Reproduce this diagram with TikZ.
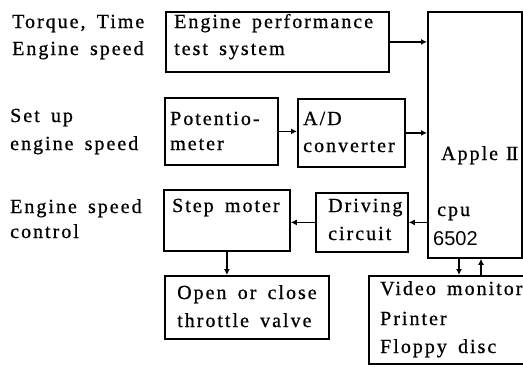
\documentclass[tikz,border=0pt]{standalone}
\usepackage{fontspec}
\setmainfont[LetterSpace=10,WordSpace=1.6,FakeBold=0.8]{Liberation Serif}
\newfontfamily\plainserif[FakeBold=0.8]{Liberation Serif}
\newfontfamily\numfont{Liberation Sans}
\usetikzlibrary{arrows.meta}
\begin{document}
\begin{tikzpicture}[x=1pt,y=-1pt,
  box/.style={draw, line width=1.8pt, inner sep=0pt, anchor=north west},
  lbl/.style={anchor=base west, inner sep=0pt, font=\fontsize{20}{27}\selectfont},
  arr/.style={line width=1.8pt, -{Latex[length=6pt,width=6pt]}}]
\useasboundingbox (0,0) rectangle (523,367);
% boxes
\node[box, minimum width=223, minimum height=60] (eng) at (165,11) {};
\node[box, minimum width=113, minimum height=67] (pot) at (164,97) {};
\node[box, minimum width=107, minimum height=68] (ad) at (297,98) {};
\node[box, minimum width=94, minimum height=246] (apple) at (427,11) {};
\node[box, minimum width=126, minimum height=61] (step) at (163,189) {};
\node[box, minimum width=92, minimum height=59] (drv) at (315,192) {};
\node[box, minimum width=164, minimum height=63] (open) at (164,275) {};
\node[box, minimum width=160, minimum height=88] (video) at (368,275) {};
% left labels
\node[lbl] (l1) at (12,28) {Torque, Time};
\node[lbl] (l2) at (12,55) {Engine speed};
\node[lbl] (l3) at (10,122) {Set up};
\node[lbl] (l4) at (10,150) {engine speed};
\node[lbl] (l5) at (10,213) {Engine speed};
\node[lbl] (l6) at (10,238) {control};
% box texts
\node[lbl] (t1) at (174,28) {Engine performance};
\node[lbl] (t2) at (174,55) {test system};
\node[lbl] (t3) at (170,125) {Potentio-};
\node[lbl] (t4) at (170,150) {meter};
\node[lbl] (t5) at (303,125) {A/D};
\node[lbl] (t6) at (303,152) {converter};
\node[lbl] (t7) at (441,160) {Apple\hspace{8pt}{\plainserif I\kern-1.2pt I}};
\node[lbl] (t8) at (172,212) {Step moter};
\node[lbl] (t9) at (328,212) {Driving};
\node[lbl] (t10) at (328,240) {circuit};
\node[lbl] (t11) at (437,216) {cpu};
\node[lbl] (t12) at (433,245) {\numfont 6502};
\node[lbl] (t13) at (177,299) {Open or close};
\node[lbl] (t14) at (177,327) {throttle valve};
\node[lbl] (t15) at (380,295) {Video monitor};
\node[lbl] (t16) at (380,325) {Printer};
\node[lbl] (t17) at (380,353) {Floppy disc};
% connectors
\coordinate (dn) at (459,0);
\coordinate (up) at (481,0);
\draw[arr] (eng.east) -- (eng.east -| apple.west);
\draw[arr] (pot.east) -- (pot.east -| ad.west);
\draw[arr] (ad.east) -- (ad.east -| apple.west);
\draw[arr] (drv.east -| apple.west) -- (drv.east);
\draw[arr] (drv.west) -- (drv.west -| step.east);
\draw[arr] (step.south) -- (step.south |- open.north);
\draw[arr] (apple.south -| dn) -- (video.north -| dn);
\draw[arr] (video.north -| up) -- (apple.south -| up);
\end{tikzpicture}
\end{document}
